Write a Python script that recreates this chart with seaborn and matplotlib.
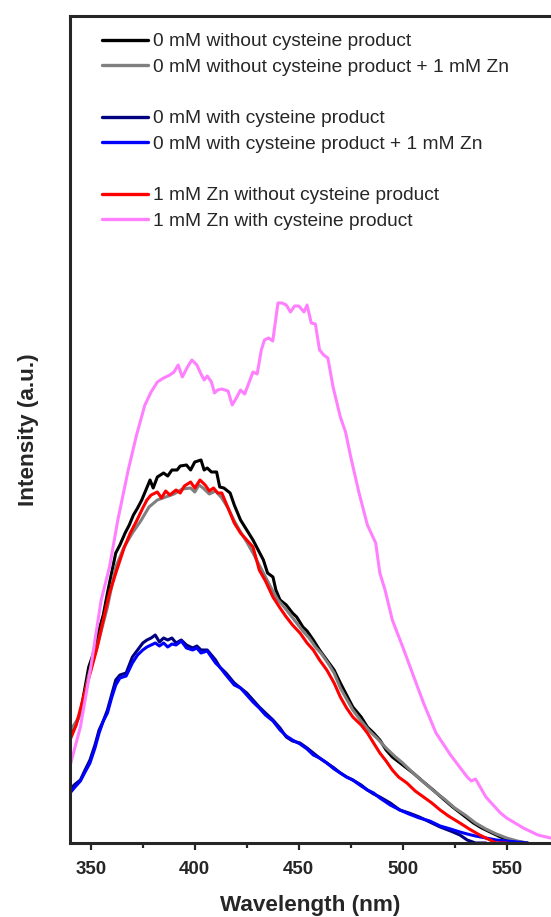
import numpy as np
import pandas as pd
import matplotlib
matplotlib.use("Agg")
import matplotlib.pyplot as plt
from matplotlib.lines import Line2D
import seaborn as sns

sns.set_style("ticks")
plt.rcParams['font.family'] = ['Liberation Sans', 'DejaVu Sans']

# ---------------- data (arbitrary intensity units) ----------------
wl_black = [340, 342, 345, 347, 349, 351, 353, 356, 358, 360, 362, 364, 366.5, 368.5, 370.5, 372.5,
            374.5, 376.5, 378.5, 380, 382, 385, 387, 389, 391.5, 393, 396, 398, 400, 403, 404.5, 406,
            408, 410.5, 412, 414, 417, 419, 422, 425, 428, 430, 433, 435, 437.6, 439, 441, 444, 447,
            449, 452, 454, 457, 460, 463.5, 467, 470, 473, 476, 480, 483, 486, 489, 492, 495, 500, 505,
            510, 514.6, 519, 524, 529, 534, 538, 543, 547, 551.5, 556, 560]
int_black = [110, 115, 130, 153, 176, 188, 206, 228, 250, 270, 290, 298, 310, 318, 328, 335,
             343, 353, 363, 355, 366, 370, 367, 373, 373, 377, 378, 373, 381, 383, 373, 375,
             371, 371, 356, 355, 350, 338, 323, 313, 303, 295, 283, 270, 266, 253, 243, 238, 230,
             226, 216, 212, 203, 193, 183, 173, 160, 148, 136, 126, 116, 110, 103, 93, 86, 78, 70,
             61, 53, 45, 36, 28, 20, 15, 10, 6, 3, 1, 0]

wl_gray = [340, 345, 349, 353, 358, 362, 366, 370, 374, 378, 382, 386, 390, 394, 398, 400, 402, 404,
           407, 410, 413, 416, 419, 422, 425, 428, 431, 434, 437, 440, 443, 446, 449, 452, 455, 458,
           461, 464, 467, 470, 473, 476, 480, 484, 488, 492, 496, 500, 505, 510, 515, 520, 525, 530,
           535, 540, 545, 550, 555, 560]
int_gray = [112, 128, 168, 196, 236, 276, 296, 310, 322, 336, 343, 346, 349, 354, 355, 351, 358, 355,
            349, 352, 345, 335, 322, 311, 301, 290, 278, 266, 254, 243, 236, 228, 220, 212, 205, 196,
            189, 180, 170, 155, 144, 133, 122, 112, 104, 95, 87, 80, 70, 61, 52, 44, 35, 28,
            20, 14, 9, 5, 2, 0]

wl_navy = [340, 342, 345, 347, 349.6, 352, 354, 356, 358, 360, 362, 364, 367, 370, 372.5, 375, 377,
           379, 381, 383, 385, 387, 389, 391, 393.5, 396, 399, 401, 403, 406, 408, 410, 412, 415, 419,
           422, 425, 428, 431, 434, 437.6, 441, 444, 447, 450.6, 454, 457, 460, 463.5, 467, 470, 473,
           476, 480, 483, 486, 489, 494, 498.6, 503, 508, 513, 518, 523, 527.5, 531, 535, 540]
int_navy = [53, 58, 63, 72, 83, 98, 113, 122, 133, 148, 163, 168, 170, 186, 193, 200, 203,
            205, 208, 201, 205, 203, 205, 200, 203, 198, 195, 197, 193, 193, 188, 183, 176, 170, 160,
            155, 150, 143, 136, 130, 123, 115, 106, 102, 100, 95, 90, 85, 80, 75, 70, 66,
            63, 58, 53, 49, 46, 40, 33, 30, 26, 21, 16, 12, 8, 3, 0, 0]

wl_blue = [340, 342, 345, 347, 349.6, 352, 354, 356, 358, 360, 362, 364, 367, 370, 372.5, 375, 377,
           379, 381, 383, 385, 387, 389, 391, 393.5, 396, 399, 401, 403, 406, 408, 410, 412, 415, 419,
           422, 425, 428, 431, 434, 437.6, 441, 444, 447, 450.6, 454, 457, 460, 463.5, 467, 470, 473,
           476, 480, 483, 486, 489, 494, 498.6, 503, 508, 513, 518, 523, 527.5, 531, 535, 540, 545,
           550, 555, 560]
int_blue = [50, 55, 62, 70, 80, 95, 110, 122, 130, 145, 158, 165, 167, 180, 188, 193, 196,
            198, 200, 197, 200, 196, 199, 198, 202, 195, 193, 195, 190, 192, 186, 180, 176, 168, 158,
            155, 148, 141, 135, 128, 122, 113, 107, 103, 99, 94, 88, 85, 80, 74, 70, 66,
            63, 57, 53, 50, 45, 38, 33, 29, 25, 22, 17, 14, 11, 9, 7, 5, 3,
            2, 1, 0]

wl_red = [340, 343, 347, 350, 353, 356, 359, 362.5, 366, 369, 372, 375, 377, 379, 382, 384, 386, 388,
          391, 393, 395, 398, 400, 402.5, 405, 407, 409, 411, 413, 415, 417, 419, 422, 425, 428, 431,
          434, 437.6, 441, 444, 447, 450.6, 454, 457, 460, 463.5, 467, 470, 473, 476, 480, 483, 486,
          489, 492, 495, 498, 502, 506, 510, 514, 518, 522, 527.5, 532, 537, 541, 545, 550]
int_red = [103, 118, 150, 172, 195, 223, 250, 273, 295, 310, 322, 335, 343, 348, 351, 345, 352, 348,
           353, 350, 357, 361, 355, 363, 358, 352, 355, 350, 350, 340, 330, 320, 310, 303, 296, 273,
           262, 246, 235, 226, 218, 210, 200, 193, 183, 173, 160, 146, 135, 126, 118, 110, 100,
           90, 82, 73, 66, 60, 52, 46, 40, 33, 27, 20, 14, 8, 4, 0, 0]

wl_pink = [340, 345, 350, 355, 359, 363, 368, 372, 376, 379, 382, 385, 388, 390, 392, 394, 396.5,
           398.6, 401, 403, 404.5, 406, 408, 409.5, 411, 413, 416, 418, 420, 422, 424, 426, 428, 430,
           432, 433.5, 435.5, 437.5, 440, 442, 444, 446, 448, 450, 452.5, 454, 456, 458, 460, 462,
           464, 466.5, 470, 472.5, 475, 479, 483, 487, 489, 491.5, 495, 500, 505, 510, 516, 523,
           531, 533, 535, 540, 547, 550, 558, 565, 571]
int_pink = [77, 116, 176, 243, 276, 323, 373, 408, 438, 451, 461, 465, 468, 471, 478, 466, 476,
            483, 478, 469, 463, 467, 461, 450, 453, 454, 452, 438, 445, 453, 449, 460, 471, 469,
            493, 503, 505, 502, 540, 540, 538, 531, 537, 537, 531, 538, 520, 519, 493, 488,
            485, 456, 426, 411, 386, 350, 318, 300, 270, 253, 223, 196, 168, 140, 110, 88,
            66, 62, 64, 46, 30, 25, 15, 8, 5]

labels = ["0 mM without cysteine product",
          "0 mM without cysteine product + 1 mM Zn",
          "0 mM with cysteine product",
          "0 mM with cysteine product + 1 mM Zn",
          "1 mM Zn without cysteine product",
          "1 mM Zn with cysteine product"]
colors = ["#000000", "#808080", "#000080", "#0000FF", "#FF0000", "#FF80FF"]
series = [(wl_black, int_black), (wl_gray, int_gray), (wl_navy, int_navy),
          (wl_blue, int_blue), (wl_red, int_red), (wl_pink, int_pink)]

# ---------------- figure ----------------
W, H = 551, 917
fig = plt.figure(figsize=(W / 100, H / 100), dpi=100)
ax = fig.add_axes([70 / W, 1 - 843 / H, (551 - 70) / W, (843 - 16) / H])

for (x, y), c, lab in zip(series, colors, labels):
    df = pd.DataFrame({"Wavelength": x, "Intensity": y})
    sns.lineplot(data=df, x="Wavelength", y="Intensity", color=c, lw=2.2,
                 ax=ax, sort=False, estimator=None, label=lab, legend=False)

ax.set_xlim(340, 571.3)
ax.set_ylim(0, 827)
ax.set_xticks([350, 400, 450, 500, 550])
ax.set_xticks([375, 425, 475, 525], minor=True)
ax.set_yticks([])
ax.tick_params(axis='x', which='major', direction='out', length=5, width=1.6,
               labelsize=13.5, pad=8)
ax.tick_params(axis='x', which='minor', direction='out', length=3.5, width=1.6)
for t in ax.get_xticklabels():
    t.set_fontweight('bold')
for side in ['left', 'bottom', 'top']:
    ax.spines[side].set_linewidth(2.2)
ax.spines['right'].set_visible(False)

ax.set_xlabel("Wavelength (nm)", fontsize=16.2, fontweight='bold', labelpad=12.5)
ax.set_ylabel("Intensity (a.u.)", fontsize=16.2, fontweight='bold', labelpad=22)

# legend with group gaps
blank = Line2D([], [], color='none')
handles = []
leg_labels = []
for i, (c, lab) in enumerate(zip(colors, labels)):
    if i in (2, 4):
        handles.append(blank)
        leg_labels.append(" ")
    handles.append(Line2D([], [], color=c, lw=2.4))
    leg_labels.append(lab)
leg = ax.legend(handles, leg_labels, loc='upper left', frameon=False,
                bbox_to_anchor=(102 / W, 1 - 33 / H), bbox_transform=fig.transFigure,
                borderpad=0, borderaxespad=0, handlelength=2.4, handletextpad=0.25,
                labelspacing=0.43, prop={'size': 13.8, 'family': 'Liberation Sans'})

fig.savefig("out.png", dpi=100)
